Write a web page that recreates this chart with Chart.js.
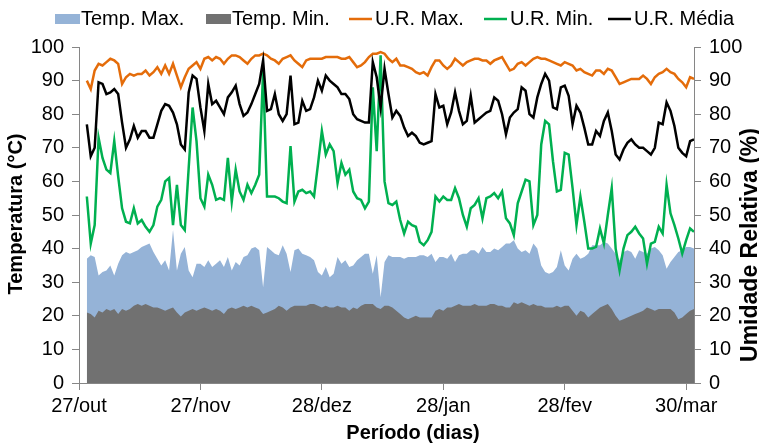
<!DOCTYPE html>
<html>
<head>
<meta charset="utf-8">
<script src="https://cdn.jsdelivr.net/npm/chart.js@4"></script>
<style>
  body { margin: 0; background: #fff; }
  canvas { display: block; }
</style>
</head>
<body>
<canvas id="chart" width="759" height="443"></canvas>
<script>
// x axis: days counted from 27/out, one tick every 31 days
const tickDays = [0, 31, 62, 93, 124, 155];
const tickLabels = ['27/out', '27/nov', '28/dez', '28/jan', '28/fev', '30/mar'];
const firstDay = 2; // first reading is two days after 27/out

// daily series
const tempMax = [
  37, 38, 37.5, 32, 33, 33.5, 35, 32, 35.5, 38,
  39, 38.5, 39, 39.5, 40.5, 41, 41.5, 39, 37, 35,
  36.5, 33.5, 45.5, 33.5, 38.5, 40.5, 33.5, 31.5, 35.5, 35.5,
  34.5, 36.5, 34.5, 35.5, 36.5, 34.5, 37.5, 33.5, 36, 35,
  37.5, 38, 40, 40.5, 39.5, 28.5, 40.5, 39.5, 38.5, 38,
  41, 38.5, 33, 39.5, 40, 38.5, 38, 37.5, 36.5, 33,
  32, 34.5, 31.5, 32.5, 37.5, 35.5, 36.5, 34.5, 35, 36.5,
  37.5, 38.5, 38.5, 32.5, 38, 25.5, 36, 38, 37.5, 37.5,
  37.5, 37, 37.5, 37.5, 37.5, 38, 38, 37.5, 38.5, 36,
  37.5, 37.5, 37, 38.5, 36, 38, 38.5, 38.5, 39.5, 39.5,
  38.5, 40.5, 39, 39, 40, 39.5, 40.5, 41.5, 41.5, 42.5,
  40, 39, 39.5, 38.5, 41.5, 40, 35, 33, 32.5, 33,
  34.5, 39.5, 35, 33.5, 37, 38.5, 37, 37.5, 38.5, 41,
  41, 41, 42, 41.5, 40, 38.5, 36.5, 39, 39.5, 39,
  37, 39.5, 39, 38.5, 40, 40.5, 39.5, 38, 34, 36,
  37.5, 39, 39.5, 40.5, 40.5, 40
];
const tempMin = [
  21, 20.5, 19.5, 21.5, 21, 22, 21.5, 22, 20.5, 22,
  21.5, 22, 23, 23.5, 23, 23.5, 23, 22.5, 22.5, 22,
  21.5, 22, 22.5, 21, 19.8, 21, 21.5, 22, 21.5, 22,
  22.5, 22, 21.5, 22, 21.5, 20.5, 22, 22.5, 22, 22.5,
  23, 22.5, 23, 22.5, 22, 20.5, 21, 21.5, 22, 23,
  22.5, 21.5, 22.5, 23, 23, 23, 23, 23.5, 23.5, 23,
  22.5, 23, 22.5, 22.5, 23, 22.5, 22.5, 21.5, 22.5, 22,
  23, 23.5, 23.5, 23.5, 22.5, 22, 23, 23, 22.5, 21.5,
  20.5, 19.5, 19, 19.5, 20, 19.5, 19.5, 19.5, 19.5, 21.5,
  22, 21.5, 22.5, 22.5, 23, 23.5, 23, 23, 23, 23.5,
  23, 23, 23, 23.5, 23.5, 23, 23, 22.5, 22.5, 24,
  23.5, 24, 23.5, 23, 23.5, 23, 23, 22.5, 22.5, 22.5,
  23, 22.5, 23, 23, 21.5, 20, 21.5, 21, 19.5, 20.5,
  21.5, 22.5, 23, 23.5, 22, 20, 18.5, 19, 19.5, 20,
  20.5, 21, 21.5, 22.5, 22, 21.5, 22, 22, 22, 22,
  21, 19, 19.5, 20.5, 21.5, 22
];
const urMax = [
  90, 87.5, 93, 95, 94.5, 95.5, 96.5, 96, 95, 89,
  91, 92, 91.5, 92, 92, 93, 91.5, 92.5, 94, 92,
  94.5, 92, 95, 91.5, 88, 91, 93.5, 94.5, 95.5, 93.5,
  96.5, 97, 96, 97, 96.5, 95, 96.5, 97.5, 97.5, 97,
  96, 95, 96.5, 97.5, 97.5, 98, 97.5, 96.5, 96, 95,
  96.5, 97, 97.5, 96, 95, 94, 96, 96.5, 96.5, 96.5,
  96.5, 97, 97, 97, 97, 96.5, 96.5, 97, 95.5, 94,
  94.5, 95.5, 97, 98, 98, 98.5, 98, 96.5, 95.5, 96.5,
  94.5, 94.5, 94, 93.5, 92.5, 92, 92.5, 91.5, 94, 96,
  96, 94.5, 93.5, 94.5, 96.5, 95.5, 94.5, 95.5, 96, 96.5,
  96.5, 96, 96, 95, 96, 96.5, 97, 95, 93, 93.5,
  95, 95.5, 94.5, 95.5, 96.5, 97, 96.5, 96.5, 96, 95.5,
  95, 94.5, 95.5, 95, 94.5, 93, 93.5, 92.5, 92, 91.5,
  93, 93, 92, 93.5, 93, 91, 89, 89.5, 90, 90.5,
  90.5, 90.5, 91.5, 90.5, 89, 91, 92, 92.5, 93.5, 92.5,
  92, 90.5, 89.5, 88, 91, 90.5
];
const urMin = [
  55.5, 41.5, 47, 73, 67, 63.5, 62.5, 72, 61.5, 52,
  48, 47.5, 52, 47.5, 48.5, 46.5, 45, 47, 52.5, 54.5,
  60, 61, 47, 59, 47, 45.5, 64, 82, 72, 55,
  52.5, 62, 59, 54.5, 55, 54.5, 67, 54, 63.5, 57,
  54.5, 59, 56.5, 59, 62, 93, 55.5, 55.5, 55.5, 55,
  54, 53.5, 70.5, 54, 57, 57.5, 56.5, 57, 55.5, 65,
  75, 68, 71, 69, 59.5, 65.5, 62, 63.5, 57, 55,
  54.5, 52, 54, 88, 69, 97.5, 60, 53.5, 53, 54,
  48.5, 44.5, 48, 47, 46.5, 42, 41, 42.5, 45, 55.5,
  54, 55.5, 54.5, 54.5, 58, 55, 50, 46.5, 52, 53,
  55, 49, 55, 55.5, 56.5, 55, 57, 49, 47.5, 44,
  53.5, 57, 60.5, 60, 47, 50, 71, 78, 77, 66,
  57, 57.5, 68.5, 68, 58, 47, 55.5, 48, 40, 40,
  40.5, 46, 41.5, 50, 58, 40, 33.5, 40, 44, 45,
  46.5, 44.5, 43, 35.5, 41.5, 42, 46.5, 44.5, 59, 50.5,
  47, 43, 38.5, 42.5, 46, 45
];
const urMedia = [
  77, 67.5, 70, 89.5, 89, 86, 86.5, 87.5, 86, 77.5,
  70, 72.5, 76.5, 73, 75, 75, 73, 73, 77, 81,
  83, 82.5, 80.5, 77, 71, 69.5, 86.5, 91.5, 90.5, 82,
  75, 89, 83, 84, 82, 80, 85, 86.5, 88.5, 83,
  79.5, 80.5, 83, 86, 89, 96, 81, 81.5, 86, 80,
  78, 80, 91.5, 77, 77.5, 84, 81, 81.5, 85, 90,
  87, 91.5, 90, 89, 88, 86, 86, 84.5, 80, 78.5,
  78, 77.5, 77.5, 95.5, 91, 82, 93.5, 86, 79, 81,
  79.5, 76, 73.5, 74.5, 73.5, 71.5, 71, 71.5, 72, 86,
  82, 82.5, 77, 80.5, 86.5, 81, 77, 78, 85.5, 77.5,
  78.5, 79.5, 80.5, 81, 85, 84, 80, 74, 79, 80.5,
  81.5, 88, 87, 80, 79, 85, 89, 92, 90, 82,
  81.5, 88, 88.5, 85.5, 77, 82.5, 80.5, 76, 71, 71,
  75, 73.5, 78, 80.5, 75, 68, 66.5, 69.5, 71.5, 72.5,
  71, 70, 70, 69, 68, 70, 77.5, 77, 83.5, 81,
  76.5, 70, 68.5, 67.5, 72, 72.5
];

const FONT = '"Liberation Sans", Arial, sans-serif';
const AXIS_GRAY = '#868686';

function toPoints(values) {
  return values.map((v, i) => ({ x: firstDay + i, y: v }));
}

// legend entries drawn by hand so boxes and lines sit like the original
const legendItems = [
  { label: 'Temp. Max.', color: '#95B3D7', kind: 'box', x: 55 },
  { label: 'Temp. Min.', color: '#717171', kind: 'box', x: 206 },
  { label: 'U.R. Max.', color: '#E46C0A', kind: 'line', x: 349 },
  { label: 'U.R. Min.', color: '#00B050', kind: 'line', x: 484 },
  { label: 'U.R. Média', color: '#000000', kind: 'line', x: 608 }
];

const extras = {
  id: 'extras',
  afterDraw(chart) {
    const ctx = chart.ctx;
    ctx.save();
    // legend
    ctx.font = '20px ' + FONT;
    ctx.textBaseline = 'middle';
    ctx.textAlign = 'left';
    legendItems.forEach(item => {
      if (item.kind === 'box') {
        ctx.fillStyle = item.color;
        ctx.fillRect(item.x, 14, 25, 10);
      } else {
        ctx.strokeStyle = item.color;
        ctx.lineWidth = 2.5;
        ctx.beginPath();
        ctx.moveTo(item.x, 19);
        ctx.lineTo(item.x + 23, 19);
        ctx.stroke();
      }
      ctx.fillStyle = '#000';
      ctx.fillText(item.label, item.x + 26, 19);
    });

    // axis titles
    ctx.font = 'bold 20px ' + FONT;
    ctx.textAlign = 'center';
    ctx.fillText('Período (dias)', 413, 433);

    ctx.save();
    ctx.translate(16, 214);
    ctx.rotate(-Math.PI / 2);
    ctx.fillText('Temperatura (°C)', 0, 0);
    ctx.restore();

    ctx.save();
    ctx.font = 'bold 23px ' + FONT;
    ctx.translate(751, 245);
    ctx.rotate(-Math.PI / 2);
    ctx.fillText('Umidade Relativa (%)', 0, 0);
    ctx.restore();

    ctx.restore();
  }
};

function yAxis(position, width) {
  return {
    position: position,
    min: 0,
    max: 100,
    ticks: { stepSize: 10, color: '#000', font: { family: FONT, size: 20 }, padding: 8 },
    grid: { drawOnChartArea: false, drawTicks: true, tickLength: 7, color: AXIS_GRAY },
    border: { color: AXIS_GRAY, width: 1 },
    afterFit(scale) { scale.width = width; }
  };
}

new Chart(document.getElementById('chart'), {
  type: 'line',
  data: {
    datasets: [
      {
        label: 'U.R. Média', data: toPoints(urMedia), yAxisID: 'y1',
        borderColor: '#000000', borderWidth: 2.5, pointRadius: 0, fill: false, order: 0
      },
      {
        label: 'U.R. Min.', data: toPoints(urMin), yAxisID: 'y1',
        borderColor: '#00B050', borderWidth: 2.5, pointRadius: 0, fill: false, order: 1
      },
      {
        label: 'U.R. Max.', data: toPoints(urMax), yAxisID: 'y1',
        borderColor: '#E46C0A', borderWidth: 2.5, pointRadius: 0, fill: false, order: 2
      },
      {
        label: 'Temp. Min.', data: toPoints(tempMin), yAxisID: 'y',
        borderWidth: 0, borderColor: 'rgba(0,0,0,0)', backgroundColor: '#717171',
        pointRadius: 0, fill: 'origin', order: 3
      },
      {
        label: 'Temp. Max.', data: toPoints(tempMax), yAxisID: 'y',
        borderWidth: 0, borderColor: 'rgba(0,0,0,0)', backgroundColor: '#95B3D7',
        pointRadius: 0, fill: 'origin', order: 4
      }
    ]
  },
  options: {
    responsive: false,
    animation: false,
    devicePixelRatio: 1,
    layout: { padding: { top: 47, left: 0, right: 0, bottom: 0 } },
    plugins: { legend: { display: false }, tooltip: { enabled: false } },
    scales: {
      x: {
        type: 'linear',
        min: 0,
        max: 157,
        afterBuildTicks(scale) { scale.ticks = tickDays.map(v => ({ value: v })); },
        ticks: {
          autoSkip: false, maxRotation: 0, color: '#000', padding: 4,
          font: { family: FONT, size: 20 },
          callback: (v) => tickLabels[tickDays.indexOf(v)]
        },
        grid: { drawOnChartArea: false, drawTicks: true, tickLength: 7, color: AXIS_GRAY },
        border: { color: AXIS_GRAY, width: 1 },
        afterFit(scale) { scale.height = 60; }
      },
      y: yAxis('left', 79),
      y1: yAxis('right', 65)
    }
  },
  plugins: [extras]
});
</script>
</body>
</html>
